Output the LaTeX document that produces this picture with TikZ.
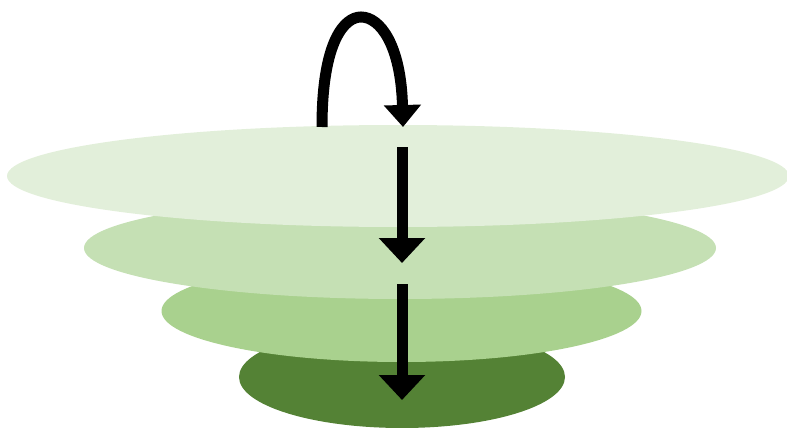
\documentclass[tikz,border=0pt]{standalone}
\usetikzlibrary{arrows.meta,shapes.geometric}
\definecolor{lvA}{HTML}{E2EFDA}
\definecolor{lvB}{HTML}{C5E0B4}
\definecolor{lvC}{HTML}{A9D18E}
\definecolor{lvD}{HTML}{548235}
\begin{document}
\begin{tikzpicture}[x=1pt,y=-1pt,
  layer/.style={ellipse,draw=none,inner sep=0pt,minimum height=102pt},
  bigarrow/.style={line width=11pt,-{Triangle[length=25pt,width=45pt]}},
  looparrow/.style={line width=11pt,-{Triangle[length=22pt,width=36pt]}}]
\useasboundingbox (0,0) rectangle (787,428);
\node[layer,fill=lvD,minimum width=326pt] (l4) at (402,377) {};
\node[layer,fill=lvC,minimum width=480pt] (l3) at (401.5,311) {};
\node[layer,fill=lvB,minimum width=632pt] (l2) at (400,248) {};
\node[layer,fill=lvA,minimum width=782pt] (l1) at (398,176) {};
\coordinate (s0) at (322,127);
\coordinate (e0) at (403,127);
\coordinate (s1) at (402,147);
\coordinate (e1) at (402,263);
\coordinate (s2) at (402,284);
\coordinate (e2) at (402,400);
\draw[looparrow] (s0) .. controls (322,40) and (345,17) .. (361,17)
  .. controls (380,17) and (401,45) .. (e0);
\draw[bigarrow] (s1) -- (e1);
\draw[bigarrow] (s2) -- (e2);
\end{tikzpicture}
\end{document}
